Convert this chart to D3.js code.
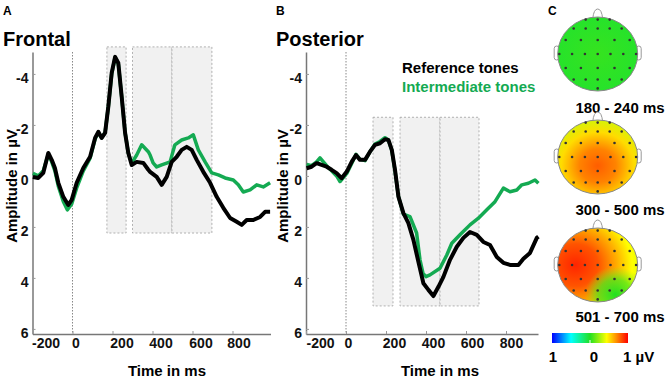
<!DOCTYPE html>
<html>
<head>
<meta charset="utf-8">
<script src="https://cdn.jsdelivr.net/npm/d3@7"></script>
<style>
  body { margin: 0; background: #fff; }
  text { font-family: "Liberation Sans", Arial, sans-serif; font-weight: bold; }
</style>
</head>
<body>
<div id="chart"></div>
<script>
// ---- data (ms, µV) ----
const xTicks = [-200, 0, 200, 400, 600, 800];
const yTicks = [-4, -2, 0, 2, 4, 6];

const frontalReference = [
  [-198,0.04],[-171,0.08],[-146,-0.12],[-121,-0.9],[-104,-0.63],[-88,-0.31],[-71,0.27],[-46,0.82],
  [-21,1.14],[-4,0.94],[21,0.27],[54,-0.31],[88,-0.75],[113,-1.49],[129,-1.73],[146,-1.49],
  [163,-1.69],[179,-2.71],[196,-4.04],[213,-4.67],[229,-4.43],[246,-3.1],[263,-1.69],[279,-0.9],
  [296,-0.43],[321,-0.55],[354,-0.51],[379,-0.24],[388,-0.16],[421,0.04],[446,0.35],[471,0.04],
  [496,-0.55],[521,-0.75],[546,-1.02],[571,-1.14],[596,-1.02],[621,-0.63],[654,-0.16],[688,0.27],
  [721,0.82],[754,1.25],[788,1.65],[821,1.8],[846,1.92],[871,1.73],[904,1.73],[938,1.61],
  [963,1.41],[988,1.41]
];
const frontalIntermediate = [
  [-198,-0.1],[-171,0.0],[-146,-0.2],[-121,-0.85],[-104,-0.55],[-88,-0.2],[-71,0.4],[-46,1.0],
  [-26,1.33],[-4,1.1],[21,0.47],[54,-0.2],[88,-0.7],[113,-1.45],[129,-1.7],[146,-1.5],
  [163,-1.7],[179,-2.7],[196,-4.0],[213,-4.65],[229,-4.4],[246,-3.1],[263,-1.7],[279,-0.9],
  [296,-0.5],[321,-0.82],[346,-1.22],[379,-0.95],[388,-0.82],[403,-0.51],[421,-0.35],[446,-0.43],
  [471,-0.5],[488,-0.55],[512,-1.22],[546,-1.41],[579,-1.49],[604,-1.61],[629,-1.02],[663,-0.55],
  [696,-0.12],[729,-0.04],[763,0.08],[804,0.16],[829,0.35],[854,0.63],[888,0.55],[921,0.35],
  [954,0.43],[988,0.27]
];
const posteriorReference = [
  [-197,-0.3],[-172,-0.36],[-147,-0.5],[-122,-0.43],[-97,-0.36],[-72,-0.24],[-47,-0.11],[-22,0.09],
  [4,-0.17],[29,-0.56],[50,-0.82],[70,-0.63],[95,-0.63],[120,-0.95],[145,-1.22],[170,-1.28],
  [195,-1.44],[212,-1.41],[229,-1.02],[245,-0.24],[262,0.81],[287,1.46],[312,1.85],[337,2.51],
  [362,3.37],[387,4.21],[412,4.47],[437,4.71],[462,4.35],[487,3.96],[520,3.29],[554,2.78],
  [587,2.43],[620,2.2],[654,2.31],[687,2.59],[720,2.71],[754,3.18],[787,3.41],[820,3.49],
  [862,3.49],[887,3.25],[920,3.02],[954,2.43],[962,2.38]
];
const posteriorIntermediate = [
  [-197,-0.45],[-172,-0.4],[-147,-0.55],[-130,-0.71],[-97,-0.4],[-72,-0.2],[-47,0.0],[-30,0.22],
  [4,-0.1],[29,-0.5],[50,-0.85],[70,-0.65],[95,-0.6],[120,-0.95],[145,-1.25],[170,-1.35],
  [195,-1.5],[212,-1.4],[229,-1.0],[245,-0.2],[262,0.8],[287,1.5],[320,1.6],[353,2.24],
  [370,3.29],[385,3.82],[400,3.95],[420,3.88],[470,3.62],[504,3.1],[529,2.64],[570,2.31],
  [620,1.92],[662,1.66],[704,1.33],[745,1.01],[787,0.48],[820,0.62],[854,0.55],[879,0.35],
  [912,0.29],[945,0.16],[962,0.29]
];

// analysis windows [start ms, end ms] and their vertical extent in µV
const frontalWindows = [[172, 268], [300, 497], [497, 697]];
const frontalWindowSpan = [-5.06, 2.24];
const posteriorWindows = [[135, 235], [270, 470], [470, 665]];
const posteriorWindowSpan = [-2.3, 5.1];

// topographies
const topoLabels = ["180 - 240 ms", "300 - 500 ms", "501 - 700 ms"];
const colorValues = [-1, -0.5, 0, 0.44, 0.7, 1];
const colorStops = ["#0000ff", "#00ffff", "#22e022", "#ffff00", "#ff8c00", "#ff0000"];
const earlyField = [[0, 0.04], [1, -0.03]];
const middleField = [[0, 0.8], [0.35, 0.72], [0.7, 0.52], [1, 0.34]];
const lateField = [[0, 0.92], [0.3, 0.82], [0.55, 0.62], [0.75, 0.44], [1, 0.32]];
const latePatch = [[0, 0.0, 1], [0.55, 0.08, 0.75], [1, 0.2, 0]];
const electrodes = [
  [-0.3,-0.93],[0,-0.93],[0.3,-0.93],
  [-0.6,-0.69],[-0.3,-0.69],[0,-0.69],[0.3,-0.69],[0.6,-0.69],
  [-0.8,-0.38],[-0.42,-0.38],[0,-0.38],[0.42,-0.38],[0.8,-0.38],
  [-0.96,0],[-0.64,0],[-0.32,0],[0,0],[0.32,0],[0.64,0],[0.96,0],
  [-0.8,0.38],[-0.42,0.38],[0,0.38],[0.42,0.38],[0.8,0.38],
  [-0.6,0.69],[-0.3,0.69],[0,0.69],[0.3,0.69],[0.6,0.69],
  [0,0.93]
];
const barTicks = [-1, 0, 1];
const barLabels = ["1", "0", "1 µV"];

const GREEN = "#14aa52";

const svg = d3.select("#chart").append("svg")
  .attr("width", 670).attr("height", 380);

class ErpPanel {
  constructor(svg, config) {
    this.svg = svg;
    this.config = config;
  }

  create_scales() {
    let c = this.config;
    this.x = d3.scaleLinear().domain(c.xDomain).range([c.left, c.right]);
    this.y = d3.scaleLinear().domain([-4.86, 6.2]).range([52, 334]);
    return this;
  }

  add_windows() {
    let x = this.x, y = this.y, span = this.config.windowSpan;
    this.svg.append("g")
      .selectAll("rect")
      .data(this.config.windows)
      .enter()
      .append("rect")
      .attr("x", d => x(d[0]))
      .attr("width", d => x(d[1]) - x(d[0]))
      .attr("y", y(span[0]))
      .attr("height", y(span[1]) - y(span[0]))
      .attr("fill", "#f1f1f1")
      .attr("stroke", "#a0a0a0")
      .attr("stroke-width", 0.8)
      .attr("stroke-dasharray", "2,2");
    return this;
  }

  create_axes() {
    let c = this.config;
    this.svg.append("line")
      .attr("x1", this.x(0)).attr("x2", this.x(0))
      .attr("y1", 52).attr("y2", 334)
      .attr("stroke", "#888").attr("stroke-width", 1)
      .attr("stroke-dasharray", "1.5,1.5");

    let yAxis = d3.axisLeft(this.y).tickValues(yTicks)
      .tickSizeInner(-3).tickSizeOuter(0).tickPadding(4)
      .tickFormat(d => String(d));
    let gy = this.svg.append("g")
      .attr("transform", `translate(${c.left},0)`)
      .call(yAxis);
    gy.selectAll("text").attr("dy", "0.6em").style("font-size", "14px").attr("fill", "#111");

    let xAxis = d3.axisBottom(this.x).tickValues(xTicks)
      .tickSizeInner(-3).tickSizeOuter(0).tickPadding(4)
      .tickFormat(d => String(d));
    let gx = this.svg.append("g")
      .attr("transform", "translate(0,334)")
      .call(xAxis);
    gx.selectAll("text").attr("dx", (d, i) => c.labelOffsets[i])
      .style("font-size", "14px").attr("fill", "#111");

    [gx, gy].forEach(g => {
      g.select(".domain").attr("stroke", "#777").attr("stroke-width", 1.5);
      g.selectAll(".tick line").attr("stroke", "#999");
    });
    return this;
  }

  add_lines() {
    let line = d3.line().x(d => this.x(d[0])).y(d => this.y(d[1]));
    [[this.config.intermediate, GREEN, 3.5], [this.config.reference, "#000", 4]]
      .forEach(s => {
        this.svg.append("path")
          .datum(s[0])
          .attr("fill", "none")
          .attr("stroke", s[1])
          .attr("stroke-width", s[2])
          .attr("stroke-linejoin", "round")
          .attr("d", line);
      });
    return this;
  }

  add_labels() {
    let c = this.config;
    this.svg.append("text").attr("x", c.letterX).attr("y", 15)
      .style("font-size", "12px").text(c.letter);
    this.svg.append("text").attr("x", c.letterX).attr("y", 46)
      .style("font-size", "20px").text(c.title);
    this.svg.append("text").attr("x", c.xTitleX).attr("y", 376)
      .attr("text-anchor", "middle").style("font-size", "15px").text("Time in ms");
    this.svg.append("text")
      .attr("transform", `translate(${c.yTitleX},186) rotate(-90)`)
      .attr("text-anchor", "middle").style("font-size", "15px").text("Amplitude in µV");
    if (c.legend) {
      this.svg.append("text").attr("x", 402).attr("y", 73)
        .style("font-size", "15px").attr("fill", "#000").text("Reference tones");
      this.svg.append("text").attr("x", 402).attr("y", 92)
        .style("font-size", "15px").attr("fill", GREEN).text("Intermediate tones");
    }
    return this;
  }

  generate() {
    this.create_scales().add_windows().create_axes().add_lines().add_labels();
  }
}

new ErpPanel(svg, {
  letter: "A", title: "Frontal", letterX: 3,
  reference: frontalReference, intermediate: frontalIntermediate,
  windows: frontalWindows, windowSpan: frontalWindowSpan,
  xDomain: [-200, 990], left: 32.5, right: 270.5,
  labelOffsets: [13, 3, 9, 8, 8, 6], xTitleX: 167, yTitleX: 17, legend: false
}).generate();

new ErpPanel(svg, {
  letter: "B", title: "Posterior", letterX: 276,
  reference: posteriorReference, intermediate: posteriorIntermediate,
  windows: posteriorWindows, windowSpan: posteriorWindowSpan,
  xDomain: [-200, 960], left: 306, right: 538,
  labelOffsets: [14, 2, 8, 7, 6, 5], xTitleX: 440, yTitleX: 288, legend: true
}).generate();

// ---- panel C: topographies ----
const colour = d3.scaleLinear().domain(colorValues).range(colorStops);
const defs = svg.append("defs");

function radial(id, cx, cy, r, stops) {
  let g = defs.append("radialGradient").attr("id", id)
    .attr("cx", cx).attr("cy", cy).attr("r", r);
  stops.forEach(s => {
    g.append("stop").attr("offset", s[0]).attr("stop-color", colour(s[1]))
      .attr("stop-opacity", s.length > 2 ? s[2] : 1);
  });
}
radial("early", 0.5, 0.5, 0.7, earlyField);
radial("middle", 0.5, 0.62, 0.65, middleField);
radial("late", 0.22, 0.5, 0.95, lateField);
radial("latePatch", 0.72, 0.9, 0.38, latePatch);

const heads = [
  { cy: 54, labelY: 113, fills: ["early"] },
  { cy: 157, labelY: 215, fills: ["middle"] },
  { cy: 265, labelY: 322, fills: ["late", "latePatch"] }
];
const headCx = 597.7, rx = 40, ry = 37;

svg.append("text").attr("x", 548).attr("y", 15).style("font-size", "12px").text("C");

heads.forEach((h, i) => {
  let g = svg.append("g");
  // nose and ears
  g.append("path")
    .attr("d", `M${headCx - 5},${h.cy - ry + 2} Q${headCx - 4},${h.cy - ry - 8} ${headCx},${h.cy - ry - 8} Q${headCx + 4},${h.cy - ry - 8} ${headCx + 5},${h.cy - ry + 2}`)
    .attr("fill", "#fff").attr("stroke", "#999").attr("stroke-width", 1);
  [-1, 1].forEach(side => {
    g.append("rect")
      .attr("x", side < 0 ? headCx - rx - 3.5 : headCx + rx - 1.5)
      .attr("y", h.cy - 8).attr("width", 5).attr("height", 14).attr("rx", 2.5)
      .attr("fill", "#fff").attr("stroke", "#999").attr("stroke-width", 1);
  });
  h.fills.forEach(f => {
    g.append("ellipse").attr("cx", headCx).attr("cy", h.cy).attr("rx", rx).attr("ry", ry)
      .attr("fill", `url(#${f})`);
  });
  g.append("ellipse").attr("cx", headCx).attr("cy", h.cy).attr("rx", rx).attr("ry", ry)
    .attr("fill", "none").attr("stroke", "#888").attr("stroke-width", 1);

  let ex = d3.scaleLinear().domain([-1, 1]).range([headCx - rx, headCx + rx]);
  let ey = d3.scaleLinear().domain([-1, 1]).range([h.cy - ry, h.cy + ry]);
  g.selectAll("circle").data(electrodes).enter().append("circle")
    .attr("cx", d => ex(d[0])).attr("cy", d => ey(d[1])).attr("r", 1.3)
    .attr("fill", "#333");

  svg.append("text").attr("x", 620).attr("y", h.labelY).attr("text-anchor", "middle")
    .style("font-size", "15px").text(topoLabels[i]);
});

// colour bar
const barX = d3.scaleLinear().domain([-1, 1]).range([552, 628]);
const lg = defs.append("linearGradient").attr("id", "bar");
colorValues.forEach((v, i) => {
  lg.append("stop").attr("offset", (v + 1) / 2).attr("stop-color", colorStops[i]);
});
svg.append("rect").attr("x", barX(-1)).attr("y", 333)
  .attr("width", barX(1) - barX(-1)).attr("height", 10)
  .attr("fill", "url(#bar)");
svg.append("line").attr("x1", barX(0)).attr("x2", barX(0)).attr("y1", 340).attr("y2", 343)
  .attr("stroke", "#fff").attr("stroke-width", 1);
svg.selectAll(".barlabel").data(barTicks).enter().append("text")
  .attr("class", "barlabel")
  .attr("x", (d, i) => i === 2 ? barX(d) - 5 : barX(d) + (i === 1 ? 4 : 1))
  .attr("y", 362)
  .attr("text-anchor", (d, i) => i === 2 ? "start" : "middle")
  .style("font-size", "15px")
  .text((d, i) => barLabels[i]);
</script>
</body>
</html>
